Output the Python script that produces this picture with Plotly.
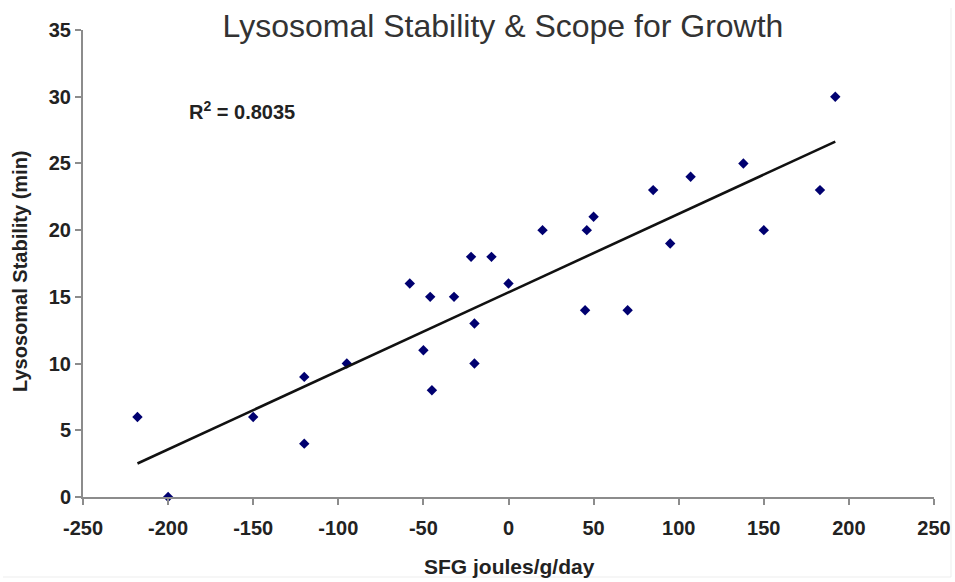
import numpy as np
import plotly.graph_objects as go

# Scope for growth (J/g/day) and lysosomal stability (min) per sample
sfg = [-218, -200, -150, -120, -120, -95, -58, -46, -32, -50, -45, -20, -20, -22,
       -10, 0, 20, 46, 50, 45, 70, 85, 95, 107, 138, 150, 183, 192]
stability = [6, 0, 6, 9, 4, 10, 16, 15, 15, 11, 8, 13, 10, 18,
             18, 16, 20, 20, 21, 14, 14, 23, 19, 24, 25, 20, 23, 30]

x_ticks = [-250, -200, -150, -100, -50, 0, 50, 100, 150, 200, 250]
y_ticks = [0, 5, 10, 15, 20, 25, 30, 35]
r_squared_label = "0.8035"

# Least-squares trend line across the observed SFG range
slope, intercept = np.polyfit(sfg, stability, 1)
fit_x = [min(sfg), max(sfg)]
fit_y = [slope * v + intercept for v in fit_x]

FONT = "Liberation Sans, Arial, Helvetica, sans-serif"
AXIS_GREY = "#8c8c8c"
TEXT = "#222222"

W, H = 955, 582
L, R, T, B = 83, 21, 30, 85
PW, PH = W - L - R, H - T - B


def px_to_paper_x(px):
    return (px - L) / PW


def px_to_paper_y(py):
    return (H - B - py) / PH


fig = go.Figure()
fig.add_trace(go.Scatter(
    x=sfg, y=stability, mode="markers",
    marker=dict(symbol="diamond", size=8, color="#000070"),
    cliponaxis=False, showlegend=False,
))
fig.add_trace(go.Scatter(
    x=fit_x, y=fit_y, mode="lines",
    line=dict(color="#111111", width=2.6),
    showlegend=False,
))

bold = dict(family=FONT, color=TEXT, weight="bold")

fig.update_layout(
    width=W, height=H,
    margin=dict(l=L, r=R, t=T, b=B, autoexpand=False),
    paper_bgcolor="white", plot_bgcolor="white",
    font=dict(family=FONT, color=TEXT),
    title=dict(
        text="Lysosomal Stability & Scope for Growth",
        font=dict(family=FONT, size=32, color="#333333"),
        x=503 / W, xanchor="center", xref="container",
        y=1 - 26 / H, yanchor="middle", yref="container",
    ),
    xaxis=dict(
        range=[-250, 250], tickvals=x_ticks,
        ticktext=[str(v) for v in x_ticks],
        showgrid=False, zeroline=False, automargin=False,
        showline=True, linecolor=AXIS_GREY, linewidth=2,
        ticks="outside", ticklen=6, tickwidth=1.5, tickcolor=AXIS_GREY,
        ticklabelstandoff=6,
        tickfont=dict(size=20, **bold),
    ),
    yaxis=dict(
        range=[0, 35], tickvals=y_ticks,
        ticktext=[str(v) for v in y_ticks],
        showgrid=False, zeroline=False, automargin=False,
        showline=True, linecolor=AXIS_GREY, linewidth=2,
        ticks="outside", ticklen=6, tickwidth=1.5, tickcolor=AXIS_GREY,
        tickfont=dict(size=20, **bold),
    ),
    annotations=[
        dict(text="R<sup>2</sup> = " + r_squared_label,
             xref="x", yref="y", x=-189, y=29.0,
             xanchor="left", yanchor="middle", showarrow=False,
             font=dict(size=20, **bold)),
        dict(text="SFG joules/g/day",
             xref="paper", yref="paper",
             x=px_to_paper_x(509), y=px_to_paper_y(566),
             xanchor="center", yanchor="middle", showarrow=False,
             font=dict(size=21, **bold)),
        dict(text="Lysosomal Stability (min)", textangle=-90,
             xref="paper", yref="paper",
             x=px_to_paper_x(20), y=px_to_paper_y(271),
             xanchor="center", yanchor="middle", showarrow=False,
             font=dict(size=20, **bold)),
    ],
    shapes=[
        dict(type="line", xref="paper", yref="paper",
             x0=px_to_paper_x(3), x1=px_to_paper_x(951),
             y0=px_to_paper_y(577), y1=px_to_paper_y(577),
             line=dict(color="#ededed", width=1)),
        dict(type="line", xref="paper", yref="paper",
             x0=px_to_paper_x(951), x1=px_to_paper_x(951),
             y0=px_to_paper_y(577), y1=px_to_paper_y(8),
             line=dict(color="#ededed", width=1)),
    ],
)

fig.write_html("out.html")
